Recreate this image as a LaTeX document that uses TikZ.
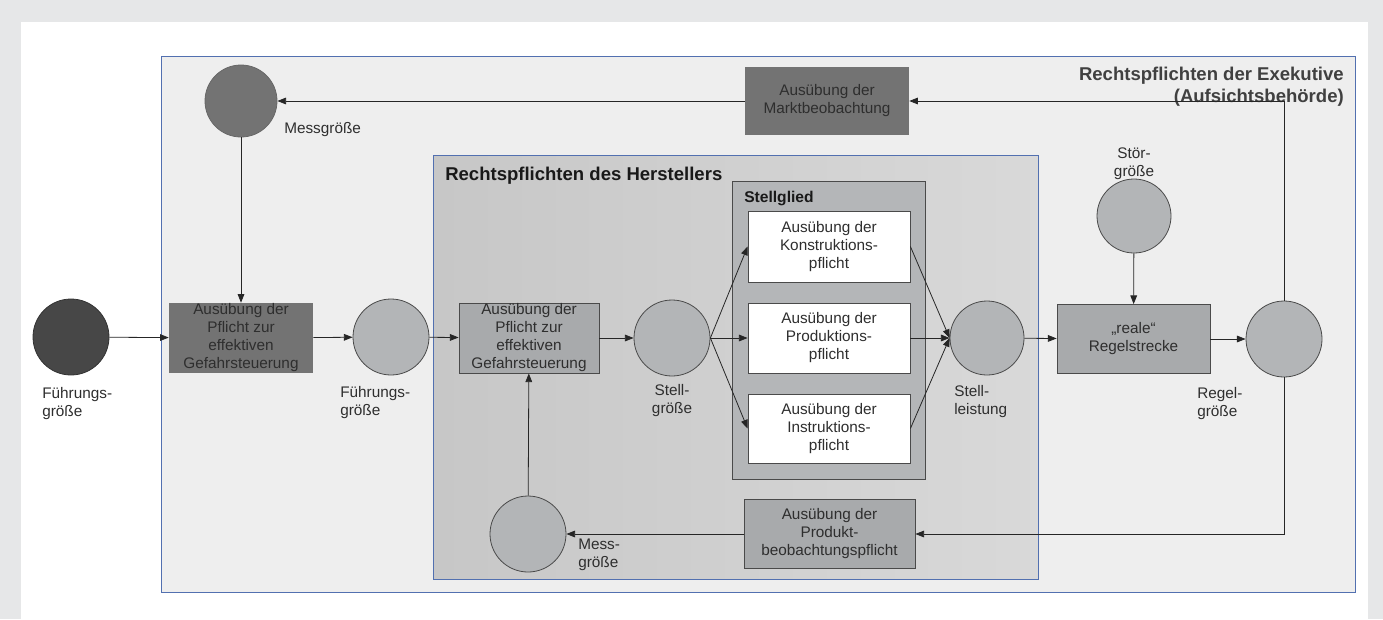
\documentclass[tikz,border=0pt]{standalone}
\usepackage{fontspec}
\setmainfont{Liberation Sans}
\usetikzlibrary{arrows.meta,calc}
\definecolor{framegray}{HTML}{E6E7E8}
\definecolor{exebg}{HTML}{EEEEEE}
\definecolor{bluebd}{HTML}{5270B0}
\definecolor{darkfill}{HTML}{737373}
\definecolor{midfill}{HTML}{A8AAAC}
\definecolor{circfill}{HTML}{B3B5B7}
\definecolor{stellfill}{HTML}{B4B6B8}
\definecolor{txt}{HTML}{2E2E2E}
\definecolor{bd}{HTML}{4A4A4A}
\begin{document}
\begin{tikzpicture}[x=0.75pt,y=-0.75pt,
  every node/.style={text=txt,font=\fontsize{11.5pt}{13.5pt}\selectfont},
  circ/.style={circle,draw=bd,line width=0.6pt,fill=circfill,minimum size=57pt,inner sep=0pt},
  darkbox/.style={rectangle,fill=darkfill,align=center,inner sep=0pt},
  midbox/.style={rectangle,draw=bd,line width=0.6pt,fill=midfill,align=center,inner sep=0pt},
  whitebox/.style={rectangle,draw=bd,line width=0.6pt,fill=white,align=center,inner sep=0pt,minimum width=121.5pt},
  lbl/.style={align=left,inner sep=0pt},
  ttl/.style={font=\bfseries\fontsize{13.9pt}{17pt}\selectfont,inner sep=0pt},
  arr/.style={-{Triangle[length=6.5pt,width=5pt]},line width=0.6pt,draw=black!85},
  ln/.style={line width=0.6pt,draw=black!85}]
% background frame
\fill[framegray] (0,0) rectangle (1383,619);
\fill[white] (21,22) rectangle (1368,619);
\useasboundingbox (0,0) rectangle (1383,619);
% Exekutive box
\node[draw=bluebd,line width=0.6pt,fill=exebg,minimum width=895.5pt,minimum height=402pt,inner sep=0pt] (exe) at (758,324) {};
% Hersteller box
\shade[left color=black!22,right color=black!15] (433,155) rectangle (1038,579);
\node[draw=bluebd,line width=0.6pt,minimum width=453.75pt,minimum height=318pt,inner sep=0pt] (her) at (735.5,367) {};
% titles
\node[ttl,anchor=base east,text=black!75] (exet1) at (1344,80) {Rechtspflichten der Exekutive};
\node[ttl,anchor=base east,text=black!75] (exet2) at (1344,102) {(Aufsichtsbehörde)};
\node[ttl,anchor=base west,text=black!90] (hert) at (445,180) {Rechtspflichten des Herstellers};
% Stellglied
\node[draw=bd,line width=0.6pt,fill=stellfill,minimum width=144.75pt,minimum height=223.5pt,inner sep=0pt] (sg) at (828.5,330) {};
\node[anchor=base west,font=\bfseries\fontsize{11.7pt}{13pt}\selectfont,text=black!90,inner sep=0pt] (sgt) at (744,202) {Stellglied};
\node[whitebox,minimum height=53.25pt] (kon) at (829,246.5) {Ausübung der\\Konstruktions-\\pflicht};
\node[whitebox,minimum height=52.5pt] (pro) at (829,338) {Ausübung der\\Produktions-\\pflicht};
\node[whitebox,minimum height=51.75pt] (ins) at (829,428.5) {Ausübung der\\Instruktions-\\pflicht};
% circles
\node[circ,fill=black!72,draw=black!80] (fg1) at (71,337) {};
\node[circ,fill=darkfill,draw=darkfill!90!black,minimum size=54pt] (mg1) at (241,101) {};
\node[circ] (fg2) at (391,337) {};
\node[circ] (stg) at (672,338) {};
\node[circ,minimum size=55.5pt] (sl) at (987,338) {};
\node[circ] (rg) at (1284,339) {};
\node[circ,minimum size=55.5pt] (stoer) at (1134,216) {};
\node[circ] (mg2) at (528,534) {};
% boxes
\node[darkbox,minimum width=108pt,minimum height=52.5pt] (lbox) at (241,338) {Ausübung der\\Pflicht zur\\effektiven\\Gefahrsteuerung};
\node[midbox,minimum width=105pt,minimum height=52.5pt] (ibox) at (529,338) {Ausübung der\\Pflicht zur\\effektiven\\Gefahrsteuerung};
\node[darkbox,minimum width=123pt,minimum height=51pt] (markt) at (827,101) {Ausübung der\\Marktbeobachtung};
\node[midbox,minimum width=114.75pt,minimum height=51.75pt] (rs) at (1133.5,339) {„reale“\\Regelstrecke};
\node[midbox,minimum width=128.25pt,minimum height=51.75pt] (pb) at (829.5,534) {Ausübung der\\Produkt-\\beobachtungspflicht};
% labels
\node[lbl,anchor=north west] (l1) at (42,387) {Führungs-\\größe};
\node[lbl,anchor=north west] (l2) at (284,122) {Messgröße};
\node[lbl,anchor=north west] (l3) at (340,386) {Führungs-\\größe};
\node[lbl,anchor=north,align=center] (l4) at (672,384) {Stell-\\größe};
\node[lbl,anchor=north west] (l5) at (954,385) {Stell-\\leistung};
\node[lbl,anchor=north west] (l6) at (1197,387) {Regel-\\größe};
\node[lbl,anchor=south,align=center] (l7) at (1134,180) {Stör-\\größe};
\node[lbl,anchor=north west] (l8) at (578,539) {Mess-\\größe};
% connectors
\draw[arr] (fg1) -- (lbox);
\draw[arr] (lbox) -- (fg2);
\draw[arr] (fg2) -- (ibox);
\draw[arr] (ibox) -- (stg);
\draw[arr] (stg.east) -- (kon.west);
\draw[arr] (stg.east) -- (pro.west);
\draw[arr] (stg.east) -- (ins.west);
\draw[arr] (kon.east) -- (sl.west);
\draw[arr] (pro.east) -- (sl.west);
\draw[arr] (ins.east) -- (sl.west);
\draw[arr] (sl) -- (rs);
\draw[arr] (rs) -- (rg);
\draw[arr] (stoer) -- (rs);
\draw[arr] (rg.north) |- (markt.east);
\draw[arr] (markt) -- (mg1);
\draw[arr] (mg1) -- (lbox);
\draw[arr] (rg.south) |- (pb.east);
\draw[arr] (pb) -- (mg2);
\draw[arr] (mg2) -- (ibox);
\end{tikzpicture}
\end{document}
